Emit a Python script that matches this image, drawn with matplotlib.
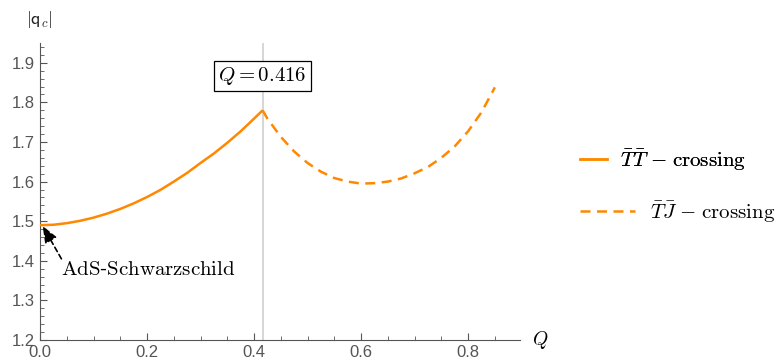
import matplotlib
matplotlib.use("Agg")
import matplotlib.pyplot as plt
from matplotlib.lines import Line2D
from matplotlib.ticker import MultipleLocator

plt.rcParams['mathtext.fontset'] = 'cm'
plt.rcParams['font.family'] = 'Liberation Sans'

# data
Q_TT = [0.0, 0.025, 0.05, 0.075, 0.1, 0.125, 0.15, 0.175, 0.2, 0.225, 0.25,
        0.275, 0.3, 0.325, 0.35, 0.375, 0.4, 0.416]
qc_TT = [1.490, 1.491, 1.495, 1.501, 1.509, 1.519, 1.531, 1.545, 1.561, 1.579, 1.600,
         1.622, 1.647, 1.671, 1.698, 1.727, 1.759, 1.780]
Q_TJ = [0.416, 0.425, 0.45, 0.475, 0.5, 0.525, 0.55, 0.575, 0.6, 0.625, 0.65,
        0.675, 0.7, 0.725, 0.75, 0.775, 0.8, 0.825, 0.85]
qc_TJ = [1.780, 1.759, 1.713, 1.676, 1.647, 1.625, 1.609, 1.600, 1.595, 1.596, 1.600,
         1.608, 1.621, 1.637, 1.660, 1.689, 1.727, 1.775, 1.838]
Q_cross = 0.416
xticks = [0.0, 0.2, 0.4, 0.6, 0.8]
yticks = [1.2, 1.3, 1.4, 1.5, 1.6, 1.7, 1.8, 1.9]

orange = '#ff8800'
gray = '#555555'

fig = plt.figure(figsize=(7.79, 3.58), dpi=100)
ax = fig.add_axes([40/779, 18/358, 480/779, 297/358])

ax.axvline(Q_cross, color='#d0d0d0', lw=1.2, zorder=1)
ax.plot(Q_TT, qc_TT, color=orange, lw=1.8, solid_capstyle='butt', zorder=3)
ax.plot(Q_TJ, qc_TJ, color=orange, lw=1.8, linestyle=(0, (4, 2.6)), zorder=3)

ax.set_xlim(0, 0.897)
ax.set_ylim(1.2, 1.95)
ax.set_xticks(xticks)
ax.set_yticks(yticks)
ax.xaxis.set_minor_locator(MultipleLocator(0.05))
ax.yaxis.set_minor_locator(MultipleLocator(0.02))
ax.set_xticklabels(['%.1f' % t for t in xticks])
ax.set_yticklabels(['%.1f' % t for t in yticks])
ax.tick_params(which='both', direction='in', color=gray, labelcolor=gray, labelsize=12)
ax.tick_params(which='major', length=5, width=0.8)
ax.tick_params(which='minor', length=3, width=0.6)
for s in ['top', 'right']:
    ax.spines[s].set_visible(False)
for s in ['left', 'bottom']:
    ax.spines[s].set_color(gray)
    ax.spines[s].set_linewidth(0.8)

fig.text(39/779, 1 - 20/358, r'$|\mathsf{q}_c|$', fontsize=13,
         ha='center', va='center', color='#222222')
fig.text(540/779, 1 - 340/358, r'$Q$', fontsize=14, ha='center', va='center')

ax.text(Q_cross, 1.8675, r'$Q = 0.416$', fontsize=15, ha='center', va='center',
        bbox=dict(boxstyle='square,pad=0.2', fc='white', ec='black', lw=0.9))

ax.annotate('', xy=(0.005, 1.488), xytext=(0.040, 1.405),
            arrowprops=dict(arrowstyle='-|>,head_length=1.0,head_width=0.4', color='black',
                            linestyle=(0, (3, 2)), lw=1.2, shrinkA=0, shrinkB=0))
ax.text(0.039, 1.378, r'$\mathrm{AdS}$-$\mathrm{Schwarzschild}$', fontsize=15,
        ha='left', va='center')

h1 = Line2D([], [], color=orange, lw=1.8)
h2 = Line2D([], [], color=orange, lw=1.8, linestyle=(0, (4, 2.6)))
leg1 = fig.legend([h1], [r'$\bar{T}\bar{T}$ $-$ $\mathrm{crossing}$'], loc='center left',
                  bbox_to_anchor=(580/779, 1 - 160/358), frameon=False, fontsize=15,
                  handlelength=1.3, handletextpad=0.6, borderpad=0, borderaxespad=0)
fig.add_artist(leg1)
fig.legend([h2], [r'$\bar{T}\bar{J}$ $-$ $\mathrm{crossing}$'], loc='center left',
           bbox_to_anchor=(580/779, 1 - 212/358), frameon=False, fontsize=15,
           handlelength=2.65, handletextpad=0.7, borderpad=0, borderaxespad=0)

fig.savefig('out.png', dpi=100)
